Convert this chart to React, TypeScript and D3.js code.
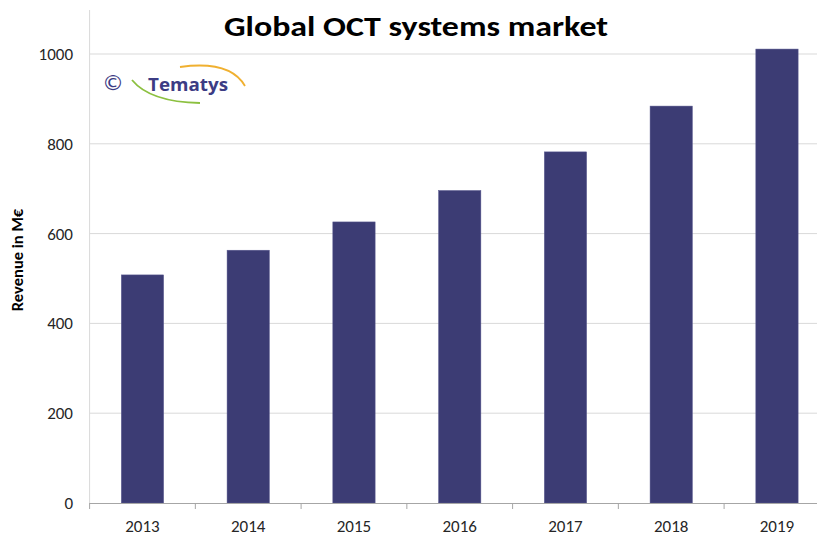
import React from "react";
import * as d3 from "d3";

const years = ["2013", "2014", "2015", "2016", "2017", "2018", "2019"];
const revenue = [508, 563, 626, 696, 782, 884, 1011];
const yTicks = [0, 200, 400, 600, 800, 1000];

export default function App() {
  const W = 817, H = 536;
  const x0 = 89.6, band = 105.75;
  const x = d3.scaleBand<string>().domain(years).range([x0, x0 + band * years.length]).paddingInner(0.6).paddingOuter(0.3);
  const y = d3.scaleLinear().domain([0, 1000]).range([503, 54]);
  const font = "Carlito, Calibri, Lato, 'Open Sans', sans-serif";
  const boundaries = d3.range(years.length + 1).map((i) => x0 + band * i);
  return (
    <svg width={W} height={H} style={{ position: "absolute", left: 0, top: 0, background: "#fff" }} fontFamily={font}>
      <rect width={W} height={H} fill="#fff" />
      {yTicks.map((t) => (
        <g key={t}>
          {t > 0 && <line x1={x0} x2={W} y1={y(t)} y2={y(t)} stroke="#d9d9d9" strokeWidth={1} />}
          <text x={73} y={y(t) + 6} textAnchor="end" fontSize={17} fill="#262626">{t}</text>
        </g>
      ))}
      <line x1={x0} x2={x0} y1={10} y2={503} stroke="#d9d9d9" />
      {years.map((yr, i) => (
        <rect key={yr} x={x(yr)} y={y(revenue[i])} width={x.bandwidth()} height={503 - y(revenue[i])} fill="#3c3c74" stroke="#5a5a90" strokeWidth={0.5} />
      ))}
      <line x1={x0} x2={W} y1={503.5} y2={503.5} stroke="#a6a6a6" />
      {boundaries.map((b, i) => (
        <line key={i} x1={b} x2={b} y1={503} y2={509} stroke="#a6a6a6" />
      ))}
      {years.map((yr) => (
        <text key={yr} x={(x(yr) ?? 0) + x.bandwidth() / 2} y={532} textAnchor="middle" fontSize={17} fill="#262626">{yr}</text>
      ))}
      <text x={416} y={36} textAnchor="middle" fontSize={29} fontWeight="bold" fill="#000" textLength={384} lengthAdjust="spacingAndGlyphs">Global OCT systems market</text>
      <text transform="translate(23,260) rotate(-90)" textAnchor="middle" fontSize={16.5} fontWeight="bold" fill="#000">Revenue in M€</text>
      <g>
        <text x={113} y={90} textAnchor="middle" fontSize={22} fill="#3c3c84" fontFamily="'DejaVu Sans', sans-serif">©</text>
        <path d="M 180 67 Q 230 60 245 86" fill="none" stroke="#f0b030" strokeWidth={1.8} />
        <path d="M 132 80 Q 150 102 200 103" fill="none" stroke="#8cc040" strokeWidth={1.8} />
        <text x={148} y={91} fontSize={18} fontWeight="bold" fill="#3c3c84" fontFamily="'Open Sans', sans-serif" textLength={80} lengthAdjust="spacingAndGlyphs">Tematys</text>
      </g>
    </svg>
  );
}
